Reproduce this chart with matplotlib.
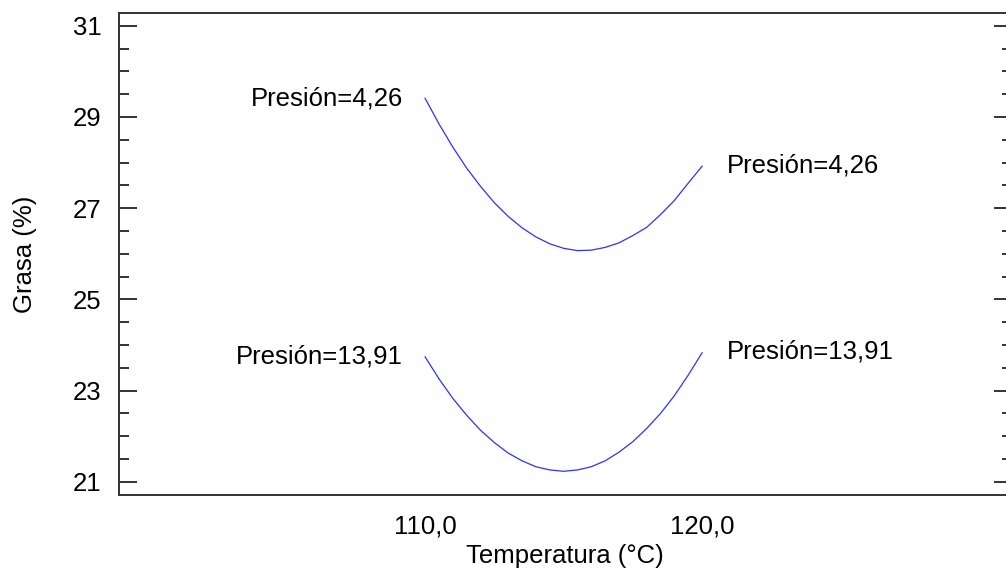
import matplotlib
matplotlib.use('Agg')
import matplotlib.pyplot as plt
from matplotlib.ticker import FixedLocator
import numpy as np

plt.rcParams['font.family'] = ['Liberation Sans', 'DejaVu Sans']

# temperatura (°C) sampled every 0.5
temperatura = [110.0, 110.5, 111.0, 111.5, 112.0, 112.5, 113.0, 113.5, 114.0, 114.5, 115.0,
               115.5, 116.0, 116.5, 117.0, 117.5, 118.0, 118.5, 119.0, 119.5, 120.0]
grasa_p426 = [29.41, 28.85, 28.34, 27.88, 27.48, 27.12, 26.82, 26.57, 26.37, 26.22, 26.12,
              26.07, 26.08, 26.14, 26.24, 26.40, 26.58, 26.86, 27.17, 27.55, 27.92]
grasa_p1391 = [23.74, 23.26, 22.83, 22.46, 22.13, 21.86, 21.63, 21.46, 21.33, 21.26, 21.23,
               21.26, 21.33, 21.46, 21.65, 21.88, 22.17, 22.50, 22.89, 23.34, 23.83]

x_ticks = [110.0, 120.0]
x_ticklabels = ['110,0', '120,0']
y_ticks = [21, 23, 25, 27, 29, 31]

labels = ['Presión=4,26', 'Presión=13,91']

fs = 18.5

fig = plt.figure(figsize=(10.06, 5.76), dpi=100)
# right edge sits just past the figure border
ax = fig.add_axes([0.118, 0.1406, 0.8875, 0.836])

line_color = '#3030ff'
ax.plot(temperatura, grasa_p426, color=line_color, lw=0.9)
ax.plot(temperatura, grasa_p1391, color=line_color, lw=0.9)

# curve labels at both ends
for series, lab in zip([grasa_p426, grasa_p1391], labels):
    ax.text(temperatura[0] - 0.8, series[0], lab, ha='right', va='center', fontsize=fs)
    ax.text(temperatura[-1] + 0.9, series[-1] + 0.02, lab, ha='left', va='center', fontsize=fs)

ax.set_xlim(98.94, 131.17)
ax.set_ylim(20.71, 31.27)

ax.xaxis.set_major_locator(FixedLocator(x_ticks))
ax.set_xticklabels(x_ticklabels)
ax.yaxis.set_major_locator(FixedLocator(y_ticks))
ax.yaxis.set_minor_locator(FixedLocator(np.arange(21, 31.01, 0.5)))

spine_color = '#333333'
for s in ax.spines.values():
    s.set_color(spine_color)
    s.set_linewidth(1.4)
ax.spines['right'].set_visible(False)

ax.tick_params(axis='x', length=0, pad=14, labelsize=fs)
ax.tick_params(axis='y', which='major', direction='in', length=13, width=1.4,
               color=spine_color, pad=12.2, labelsize=fs, right=True)
ax.tick_params(axis='y', which='minor', direction='in', length=7, width=1.4,
               color=spine_color, right=True)

ax.set_xlabel('Temperatura (°C)', fontsize=fs, labelpad=4)
ax.set_ylabel('Grasa (%)', fontsize=fs, labelpad=26)

fig.savefig('out.png', dpi=100)
